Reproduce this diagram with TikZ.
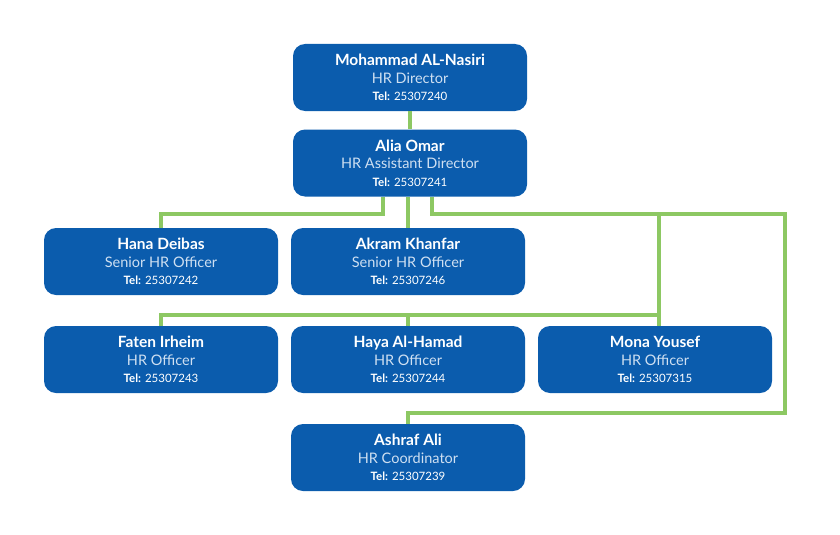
\documentclass[tikz,border=0pt]{standalone}
\usepackage{fontspec}
\setmainfont{Lato}
\definecolor{boxblue}{HTML}{0B5CAD}
\definecolor{linegreen}{HTML}{8DC863}
\definecolor{titletext}{HTML}{CFE0F2}
\newcommand{\staffcard}[3]{%
  {\fontsize{15.5}{17.5}\selectfont\bfseries #1}\\
  {\fontsize{14.5}{17.5}\selectfont\color{titletext}#2}\\
  {\fontsize{11.5}{17.5}\selectfont\textbf{Tel:} #3}}
\begin{document}
\begin{tikzpicture}[x=1pt, y=-1pt,
    card/.style={fill=boxblue, rounded corners=12pt, minimum width=234pt,
      minimum height=67pt, text=white, align=center, inner sep=0pt,
      font=\fontsize{14}{17.5}\selectfont},
    link/.style={draw=linegreen, line width=4pt}]
    \useasboundingbox (0,0) rectangle (840,535);

    % 卡片
    \node[card] (director) at (410,77.5) {\staffcard{Mohammad AL-Nasiri}{HR Director}{25307240}};
    \node[card] (alia) at (410,163) {\staffcard{Alia Omar}{HR Assistant Director}{25307241}};
    \node[card] (hana) at (161,261.5) {\staffcard{Hana Deibas}{Senior HR Officer}{25307242}};
    \node[card] (akram) at (408,261.5) {\staffcard{Akram Khanfar}{Senior HR Officer}{25307246}};
    \node[card] (faten) at (161,359.5) {\staffcard{Faten Irheim}{HR Officer}{25307243}};
    \node[card] (haya) at (408,359.5) {\staffcard{Haya Al-Hamad}{HR Officer}{25307244}};
    \node[card] (mona) at (655,359.5) {\staffcard{Mona Yousef}{HR Officer}{25307315}};
    \node[card] (ashraf) at (408,457.5) {\staffcard{Ashraf Ali}{HR Coordinator}{25307239}};

    % 连线
    \begin{scope}[link]
      \draw (director.south) -- (alia.north);
      \draw ([xshift=-27pt]alia.south) -- ++(0,17) -| (hana.north);
      \draw ([xshift=-2pt]alia.south) -- (akram.north);
      \draw ([xshift=22pt]alia.south) -- ++(0,17) -- ++(353,0) -- ++(0,199) -| (ashraf.north);
      \draw ([xshift=4pt]mona.north) -- ++(0,-113);
      \draw (faten.north) -- ++(0,-11) -| ([xshift=4pt]mona.north);
      \draw (haya.north) -- ++(0,-11);
    \end{scope}
\end{tikzpicture}
\end{document}
